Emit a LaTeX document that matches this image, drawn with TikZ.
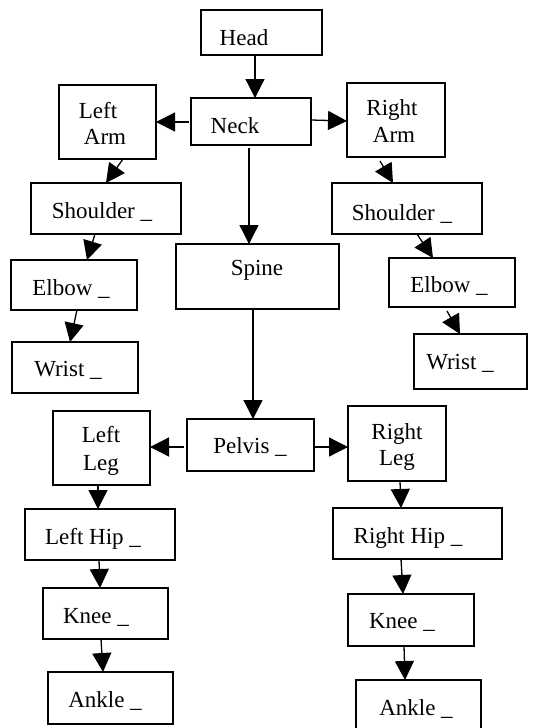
\documentclass[tikz,border=0pt]{standalone}
\usepackage{fontspec}
\setmainfont{Liberation Serif}
\usetikzlibrary{arrows.meta}
\tikzset{
  box/.style={draw, line width=1.3pt, inner sep=0pt, outer sep=0pt},
  arr/.style={-{Triangle[width=19pt,length=19pt]}, line width=1.3pt},
  lab/.style={font=\fontsize{23}{26}\selectfont, anchor=base, inner sep=0pt}
}
\newcommand\mybox[5]{\node[box, minimum width={(#4)-(#2)}, minimum height={(#5)-(#3)}] (#1) at ({((#2)+(#4))/2},{((#3)+(#5))/2}) {};}
\begin{document}
\begin{tikzpicture}[x=1pt,y=-1pt]
\useasboundingbox (0,0) rectangle (536,728);
% boxes
\mybox{Head}{201}{10}{322}{55}
\mybox{Neck}{191}{98}{311}{145}
\mybox{LArm}{59}{85}{156}{159}
\mybox{RArm}{347}{83}{445}{157}
\mybox{LSh}{31}{183}{181}{234}
\mybox{RSh}{332}{183}{482}{234}
\mybox{Spine}{176}{244}{339}{309}
\mybox{LEl}{11}{260}{137}{310}
\mybox{REl}{389}{258}{515}{307}
\mybox{LWr}{12}{342}{138}{393}
\mybox{RWr}{414}{334}{527}{389}
\mybox{LLeg}{53}{411}{150}{485}
\mybox{Pelvis}{187}{419}{314}{471}
\mybox{RLeg}{348}{406}{446}{481}
\mybox{LHip}{25}{509}{175}{560}
\mybox{RHip}{333}{508}{502}{559}
\mybox{LKn}{43}{588}{168}{639}
\mybox{RKn}{348}{594}{474}{646}
\mybox{LAn}{48}{672}{173}{724}
\mybox{RAn}{356}{680}{481}{740}
% labels
\node[lab] (tHead) at (244,45) {Head};
\node[lab] (tNeck) at (235,133) {Neck};
\node[lab] (tLArm1) at (98,118) {Left};
\node[lab] (tLArm2) at (105,144) {Arm};
\node[lab] (tRArm1) at (392,115) {Right};
\node[lab] (tRArm2) at (394,142) {Arm};
\node[lab] (tLSh) at (102,218) {Shoulder \_};
\node[lab] (tRSh) at (402,220) {Shoulder \_};
\node[lab] (tSpine) at (257,275) {Spine};
\node[lab] (tLEl) at (71,295) {Elbow \_};
\node[lab] (tREl) at (449,292) {Elbow \_};
\node[lab] (tLWr) at (68,376) {Wrist \_};
\node[lab] (tRWr) at (460,369) {Wrist \_};
\node[lab] (tLLeg1) at (101,442) {Left};
\node[lab] (tLLeg2) at (101,470) {Leg};
\node[lab] (tPelvis) at (250,453) {Pelvis \_};
\node[lab] (tRLeg1) at (397,439) {Right};
\node[lab] (tRLeg2) at (397,465) {Leg};
\node[lab] (tLHip) at (93,544) {Left Hip \_};
\node[lab] (tRHip) at (408,543) {Right Hip \_};
\node[lab] (tLKn) at (96,623) {Knee \_};
\node[lab] (tRKn) at (402,628) {Knee \_};
\node[lab] (tLAn) at (105,707) {Ankle \_};
\node[lab] (tRAn) at (416,715) {Ankle \_};
% connectors
\draw[arr] (Head.south -| 255,0) -- (Neck.north -| 255,0);
\draw[arr] (Neck.west |- 0,122) ++(-2,0) -- (LArm.east |- 0,122);
\draw[arr] (Neck.east |- 0,120) -- (RArm.west |- 0,121);
\draw[arr] (Neck.south -| 249,0) ++(0,3) -- (Spine.north -| 249,0);
\draw[arr] (LArm.south -| 123,0) -- (LSh.north -| 106,0);
\draw[arr] (RArm.south -| 380,0) ++(0,4) -- (RSh.north -| 393,0);
\draw[arr] (LSh.south -| 95,0) -- (LEl.north -| 87,0);
\draw[arr] (RSh.south -| 417,0) -- (REl.north -| 433,0);
\draw[arr] (LEl.south -| 77,0) -- (LWr.north -| 70,0);
\draw[arr] (REl.south -| 447,0) ++(0,4) -- (RWr.north -| 460,0);
\draw[arr] (Spine.south -| 253,0) -- (Pelvis.north -| 253,0);
\draw[arr] (Pelvis.west |- 0,447) ++(-3,0) -- (LLeg.east |- 0,447);
\draw[arr] (Pelvis.east |- 0,447) -- (RLeg.west |- 0,447);
\draw[arr] (LLeg.south -| 98,0) -- (LHip.north -| 98,0);
\draw[arr] (RLeg.south -| 400,0) -- (RHip.north -| 401,0);
\draw[arr] (LHip.south -| 99,0) -- (LKn.north -| 100,0);
\draw[arr] (RHip.south -| 401,0) -- (RKn.north -| 403,0);
\draw[arr] (LKn.south -| 101,0) -- (LAn.north -| 103,0);
\draw[arr] (RKn.south -| 404,0) -- (RAn.north -| 405,0);
\end{tikzpicture}
\end{document}
